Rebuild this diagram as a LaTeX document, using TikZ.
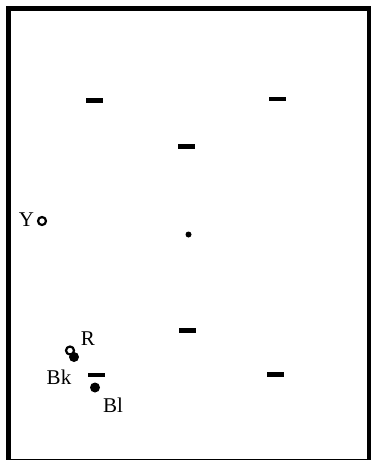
\documentclass[tikz,border=0pt]{standalone}
\usepackage{fontspec}
\setmainfont{Liberation Serif}
\begin{document}
\begin{tikzpicture}[x=1pt,y=-1pt,
  bar/.style={rectangle,fill=black,inner sep=0pt,minimum width=17pt,minimum height=4.5pt},
  opendot/.style={circle,draw=black,line width=2.2pt,fill=white,inner sep=0pt,minimum size=8pt},
  fulldot/.style={circle,fill=black,inner sep=0pt,minimum size=10pt},
  smalldot/.style={circle,fill=black,inner sep=0pt,minimum size=6pt},
  lbl/.style={inner sep=0pt,font=\fontsize{21}{23}\selectfont}]
\useasboundingbox (0,0) rectangle (371,460);
\clip (0,0) rectangle (371,460);
\draw[line width=5pt] (8.5,8.5) rectangle (369.5,461.3);
% bars
\node[bar] (b1) at (94,100.5) {};
\node[bar] (b2) at (277,99) {};
\node[bar] (b3) at (186,146.5) {};
\node[bar] (b4) at (187.5,330.5) {};
\node[bar] (b5) at (275.5,374.5) {};
\node[bar] (b6) at (96,375) {};
% center dot
\node[smalldot] (c) at (188.5,234.5) {};
% Y
\node[opendot] (y) at (42,221) {};
\node[lbl] (ylab) at (26.5,220) {Y};
% Bk and R
\node[fulldot] (bk) at (74,357) {};
\node[opendot] (r) at (70,350.5) {};
\node[lbl] (rlab) at (88,339) {R};
\node[lbl] (bklab) at (59,377) {Bk};
% Bl
\node[fulldot] (bl) at (95,387.5) {};
\node[lbl] (bllab) at (113,405) {Bl};
\end{tikzpicture}
\end{document}
